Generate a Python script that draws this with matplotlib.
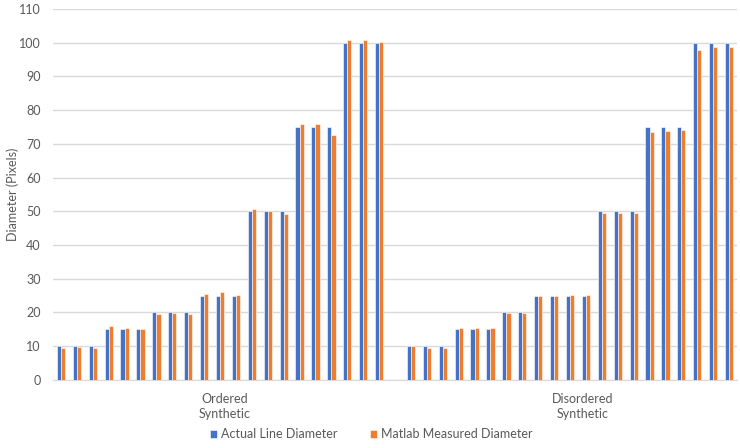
import numpy as np
import matplotlib
matplotlib.use("Agg")
import matplotlib.pyplot as plt

# data
groups = ["Ordered\nSynthetic", "Disordered\nSynthetic"]

ordered_actual = [10, 10, 10, 15, 15, 15, 20, 20, 20, 25, 25, 25,
                  50, 50, 50, 75, 75, 75, 100, 100, 100]
ordered_measured = [9.4, 9.9, 9.4, 15.9, 15.4, 15.2, 19.5, 19.7, 19.5,
                    25.5, 26.0, 25.3, 50.6, 50.0, 49.3, 76.0, 76.0, 72.7,
                    100.8, 100.9, 100.3]

disordered_actual = [10, 10, 10, 15, 15, 15, 20, 20, 25, 25, 25, 25,
                     50, 50, 50, 75, 75, 75, 100, 100, 100]
disordered_measured = [10.0, 9.4, 9.4, 15.4, 15.4, 15.4, 19.7, 19.7, 24.9,
                       24.9, 25.1, 25.2, 49.5, 49.5, 49.5, 73.4, 73.7, 74.1,
                       97.9, 98.8, 98.6]

blue = "#4472C4"
orange = "#ED7D31"
grey_text = "#595959"
grid_col = "#D9D9D9"

plt.rcParams['font.family'] = ['Lato', 'DejaVu Sans']

#categories: one blank slot between the two groups
n = len(ordered_actual)
x_ord = np.arange(n)
x_dis = np.arange(n) + n + 1
x = np.concatenate([x_ord, x_dis])
actual = ordered_actual + disordered_actual
measured = ordered_measured + disordered_measured

fig = plt.figure(figsize=(7.4, 4.48), dpi=100)
ax = fig.add_axes([0.0716, 0.152, 0.9244, 0.828])

w = 0.26
ax.bar(x - w / 2, actual, w, color=blue, edgecolor="white", linewidth=0.4,
       label="Actual Line Diameter", zorder=3)
ax.bar(x + w / 2, measured, w, color=orange, edgecolor="white", linewidth=0.4,
       label="Matlab Measured Diameter", zorder=3)

ax.set_xlim(-0.5, x_dis[-1] + 0.5)
ax.set_ylim(0, 110)
ax.set_yticks(np.arange(0, 111, 10))
ax.yaxis.grid(True, color=grid_col, linewidth=1, zorder=0)
ax.set_axisbelow(True)

for s in ["top", "right", "left"]:
    ax.spines[s].set_visible(False)
ax.spines["bottom"].set_color(grid_col)

ax.set_xticks([])
ax.tick_params(axis="y", length=0, labelsize=9, colors=grey_text, pad=9)

#group labels under the axis
for xpos, lab in zip([10.3, 32.8], groups):
    ax.text(xpos, -3.8, lab, ha="center", va="top", fontsize=9,
            color=grey_text, linespacing=1.35)

ax.set_ylabel("Diameter (Pixels)", fontsize=9, color=grey_text, labelpad=0)

ax.legend(loc="upper center", bbox_to_anchor=(0.465, -0.10), ncol=2,
          frameon=False, fontsize=9, handlelength=0.6, handleheight=0.6,
          columnspacing=2.6, handletextpad=0.3, labelcolor=grey_text)

fig.savefig("out.png", dpi=100)
